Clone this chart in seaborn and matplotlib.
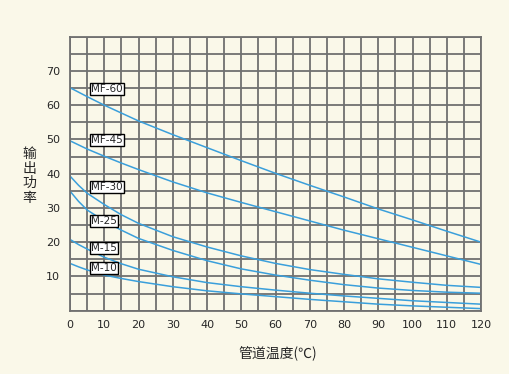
import matplotlib
matplotlib.use("Agg")
import matplotlib.pyplot as plt
import pandas as pd
import seaborn as sns

# pipe temperature (C)
temps = [0, 2.5, 5, 10, 15, 20, 30, 40, 50, 60, 70, 80, 90, 100, 110, 120]

# output power per cable model
mf60 = [65.1, 63.8, 62.5, 60.0, 57.7, 55.4, 51.4, 47.6, 43.8, 40.1, 36.6, 33.2, 29.7, 26.5, 23.2, 20.0]
mf45 = [49.6, 48.4, 47.2, 45.1, 43.1, 41.2, 37.6, 34.4, 31.6, 28.9, 26.2, 23.5, 21.0, 18.5, 16.0, 13.5]
mf30 = [39.3, 36.6, 34.3, 31.0, 28.0, 25.5, 21.6, 18.6, 16.0, 13.8, 12.0, 10.6, 9.3, 8.3, 7.4, 6.8]
m25 = [34.9, 31.9, 29.4, 26.2, 23.5, 21.1, 17.6, 14.6, 12.2, 10.4, 8.9, 7.6, 6.6, 5.9, 5.4, 5.1]
m15 = [20.8, 19.3, 18.0, 15.6, 13.7, 12.1, 9.9, 8.2, 7.0, 6.0, 5.1, 4.3, 3.6, 2.9, 2.4, 1.9]
m10 = [13.8, 12.8, 11.9, 10.4, 9.4, 8.5, 7.0, 5.8, 4.9, 4.1, 3.3, 2.6, 1.9, 1.4, 1.0, 0.6]

models = ["MF-60", "MF-45", "MF-30", "M-25", "M-15", "M-10"]
series = [mf60, mf45, mf30, m25, m15, m10]
label_y = [64.7, 49.8, 36.1, 26.2, 18.3, 12.4]

rows = []
for name, vals in zip(models, series):
    for t, v in zip(temps, vals):
        rows.append({"temp": t, "power": v, "model": name})
df = pd.DataFrame(rows)

bg = "#FAF8E9"
sns.set_style("white")
plt.rcParams["font.family"] = ["DejaVu Sans", "Noto Sans CJK SC"]

fig = plt.figure(figsize=(5.1, 3.74), dpi=100, facecolor=bg)
ax = fig.add_axes([0.1373, 0.1693, 0.806, 0.7326])
ax.set_facecolor(bg)

sns.lineplot(data=df, x="temp", y="power", units="model", estimator=None,
             color="#3A9FDB", linewidth=1.1, ax=ax, legend=False)

ax.set_xlim(0, 120)
ax.set_ylim(0, 80)
ax.set_xticks(range(0, 121, 5))
ax.set_yticks(range(0, 81, 5))
ax.grid(True, color="#707070", linewidth=1.3)
ax.set_axisbelow(True)
ax.set_xticklabels([str(v) if v % 10 == 0 else "" for v in range(0, 121, 5)], fontsize=8)
ax.set_yticklabels([str(v) if (v % 10 == 0 and 10 <= v <= 70) else "" for v in range(0, 81, 5)],
                   fontsize=8)
ax.tick_params(length=0, pad=7)
for s in ax.spines.values():
    s.set_color("#707070")
    s.set_linewidth(1.3)
ax.set_xlabel("")
ax.set_ylabel("")

for name, yv in zip(models, label_y):
    ax.text(6.2, yv, name, fontsize=7.5, va="center", ha="left", zorder=5,
            bbox=dict(boxstyle="square,pad=0.1", facecolor="#FFFFFF", edgecolor="black", linewidth=1))

fig.text(0.545, 0.055, "管道温度(℃)", ha="center", va="center", fontsize=10,
         family=["Noto Sans CJK SC", "DejaVu Sans"])
fig.text(0.058, 0.53, "输\n出\n功\n率", ha="center", va="center", fontsize=10,
         linespacing=1.05, family=["Noto Sans CJK SC", "DejaVu Sans"])

fig.savefig("out.png", dpi=100, facecolor=bg)
